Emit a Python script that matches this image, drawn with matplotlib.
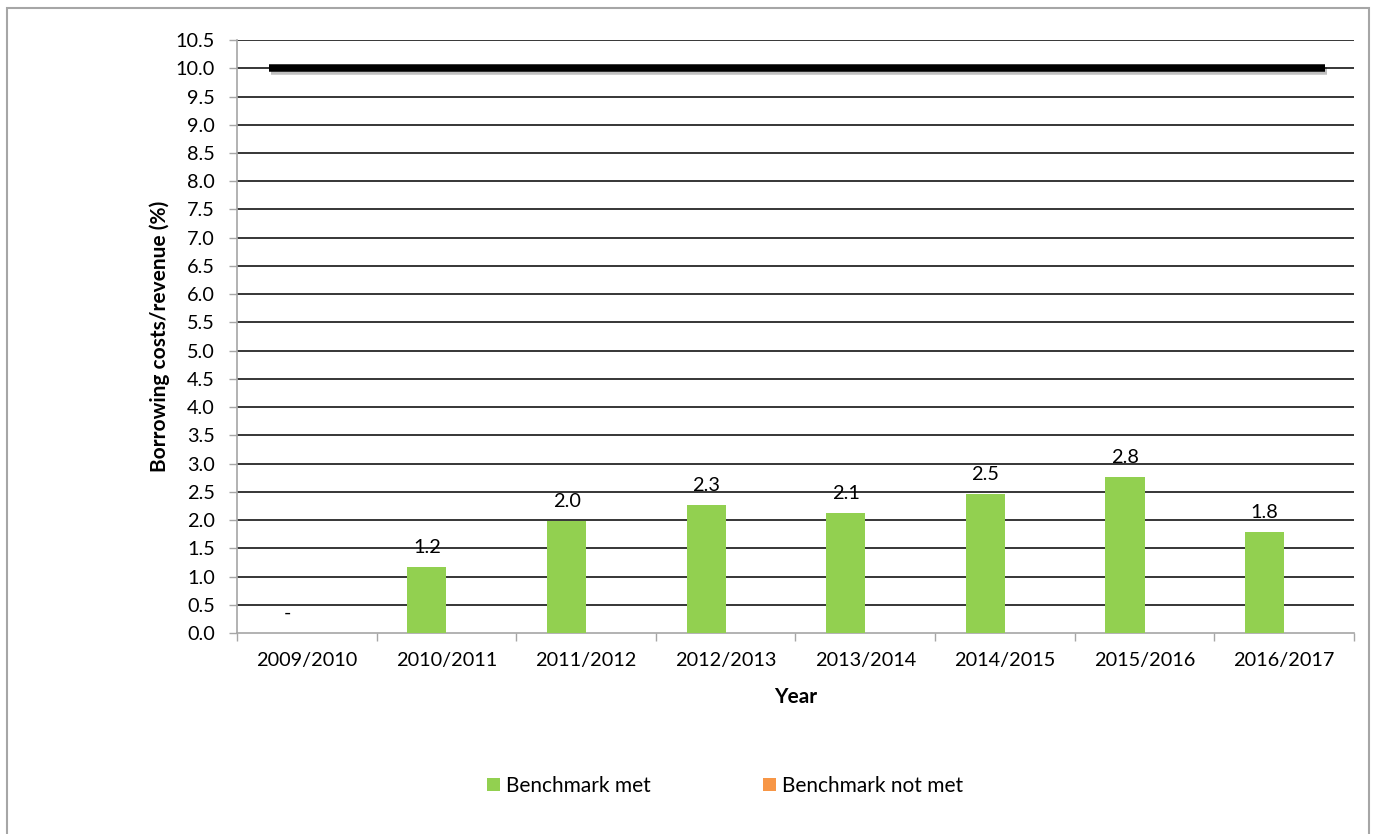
import matplotlib
matplotlib.use("Agg")
import matplotlib.pyplot as plt
import matplotlib.patheffects as pe
from matplotlib.patches import Rectangle
import numpy as np

plt.rcParams['font.family'] = ['Lato', 'DejaVu Sans']

years = ["2009/2010", "2010/2011", "2011/2012", "2012/2013",
         "2013/2014", "2014/2015", "2015/2016", "2016/2017"]
met = [0.0, 1.17, 1.98, 2.26, 2.13, 2.46, 2.76, 1.78]
not_met = [0.0, 0.0, 0.0, 0.0, 0.0, 0.0, 0.0, 0.0]
benchmark = 10.0
y_ticks = np.arange(0, 10.51, 0.5)

GREEN = "#92D050"
ORANGE = "#F79646"
GREY = "#A6A6A6"
FS = 14.3

fig = plt.figure(figsize=(13.76, 8.34), dpi=100)
ax = fig.add_axes([0.1722, 0.241, 0.8118, 0.711])

x = np.arange(len(years))
w = 0.28
bars_met = ax.bar(x - w / 2, met, w, color=GREEN, label="Benchmark met", zorder=3)
bars_not = ax.bar(x + w / 2, not_met, w, color=ORANGE, label="Benchmark not met", zorder=3)

for xi, v in zip(x, met):
    txt = "-" if v == 0 else f"{v:.1f}"
    ax.annotate(txt, (xi - w / 2, v), xytext=(0, 8), textcoords="offset points",
                ha="center", va="bottom", fontsize=FS, color="black", zorder=4)

# benchmark threshold line
ax.axhline(benchmark, xmin=0.0286, xmax=0.974, color="black", lw=5.4,
           solid_capstyle="butt", zorder=5,
           path_effects=[pe.SimpleLineShadow(offset=(1.5, -2), alpha=0.25),
                         pe.Normal()])

ax.set_ylim(0, 10.5)
ax.set_xlim(-0.5, len(years) - 0.5)
ax.set_yticks(y_ticks)
ax.set_yticklabels([f"{t:.1f}" for t in y_ticks])
for t in y_ticks[1:]:
    ax.axhline(t, color="black", lw=1.1, zorder=1)

ax.set_xticks(np.arange(-0.5, len(years), 1.0))
ax.set_xticklabels([])
ax.set_xticks(x, minor=True)
ax.set_xticklabels(years, minor=True)
ax.tick_params(axis="x", which="major", length=6, width=1, color=GREY, direction="out")
ax.tick_params(axis="x", which="minor", length=0, pad=14, labelsize=FS)
ax.tick_params(axis="y", length=6, width=1, color=GREY, direction="out",
               pad=10, labelsize=FS)

for s in ("top", "right"):
    ax.spines[s].set_visible(False)
for s in ("left", "bottom"):
    ax.spines[s].set_color(GREY)
    ax.spines[s].set_linewidth(1.2)

fig.text(0.116, 0.5965, "Borrowing costs/revenue (%)", rotation=90,
         ha="center", va="center", fontsize=15, fontweight="bold")
fig.text(0.5782, 0.164, "Year", ha="center", va="center",
         fontsize=15, fontweight="bold")

fig.legend(handles=[bars_met, bars_not], loc="center", bbox_to_anchor=(0.527, 0.0575),
           ncol=2, frameon=False, fontsize=15, handlelength=0.6, handleheight=0.6,
           handletextpad=0.3, columnspacing=5.4)

fig.patches.append(Rectangle((7 / 1376, -0.05), 1362 / 1376, 1.05 - 7.5 / 834,
                             transform=fig.transFigure, fill=False,
                             edgecolor=GREY, lw=1.5))

fig.savefig("out.png", dpi=100)
